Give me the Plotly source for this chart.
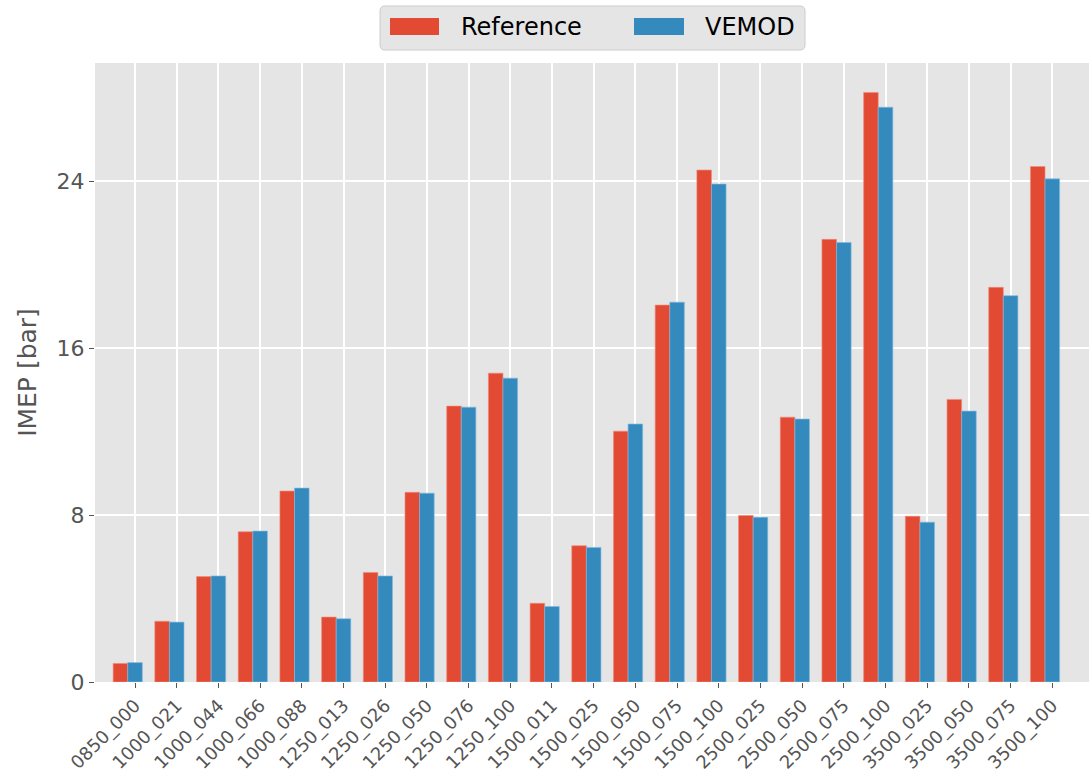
import plotly.graph_objects as go

# Operating points (speed_load) and IMEP values in bar
operating_points = [
    "0850_000", "1000_021", "1000_044", "1000_066", "1000_088",
    "1250_013", "1250_026", "1250_050", "1250_076", "1250_100",
    "1500_011", "1500_025", "1500_050", "1500_075", "1500_100",
    "2500_025", "2500_050", "2500_075", "2500_100",
    "3500_025", "3500_050", "3500_075", "3500_100",
]
imep_reference = [
    0.89, 2.91, 5.05, 7.20, 9.15,
    3.11, 5.25, 9.09, 13.22, 14.80,
    3.77, 6.53, 12.02, 18.06, 24.53,
    7.98, 12.69, 21.21, 28.25,
    7.94, 13.54, 18.91, 24.70,
]
imep_vemod = [
    0.93, 2.87, 5.08, 7.23, 9.29,
    3.03, 5.08, 9.05, 13.17, 14.56,
    3.62, 6.45, 12.36, 18.20, 23.86,
    7.89, 12.60, 21.06, 27.54,
    7.66, 12.98, 18.51, 24.11,
]
y_ticks = [0, 8, 16, 24]

RED = "#E24A33"
BLUE = "#348ABD"
BAR_W = 0.35

W, H = 1089, 780
M_L, M_R, M_T, M_B = 95, 0, 63, 98
PW, PH = W - M_L - M_R, H - M_T - M_B


def px_x(x):
    return (x - M_L) / PW


def px_y(y):
    return (H - M_B - y) / PH


fig = go.Figure()
fig.add_trace(go.Bar(
    x=operating_points, y=imep_reference, name="Reference",
    width=BAR_W, offset=-1.5 * BAR_W,
    marker=dict(color=RED, line=dict(color="rgba(240,140,125,0.8)", width=0.8)),
    showlegend=False,
))
fig.add_trace(go.Bar(
    x=operating_points, y=imep_vemod, name="VEMOD",
    width=BAR_W, offset=-0.5 * BAR_W,
    marker=dict(color=BLUE, line=dict(color="rgba(130,185,225,0.8)", width=0.8)),
    showlegend=False,
))

# Legend drawn as a rounded box with wide swatches
x0, x1, y0, y1, r = 380, 805, 6, 50, 5
rx, ry = r / PW, r / PH
X0, X1, Y0, Y1 = px_x(x0), px_x(x1), px_y(y1), px_y(y0)
box_path = (
    f"M {X0 + rx},{Y0} L {X1 - rx},{Y0} Q {X1},{Y0} {X1},{Y0 + ry} "
    f"L {X1},{Y1 - ry} Q {X1},{Y1} {X1 - rx},{Y1} "
    f"L {X0 + rx},{Y1} Q {X0},{Y1} {X0},{Y1 - ry} "
    f"L {X0},{Y0 + ry} Q {X0},{Y0} {X0 + rx},{Y0} Z"
)
shapes = [dict(type="path", path=box_path, xref="paper", yref="paper",
               fillcolor="#E5E5E5", line=dict(color="#CCCCCC", width=1),
               layer="above")]
annotations = []
for (sx0, sx1, tx, label, col) in [(390, 439, 459, "Reference", RED),
                                   (634, 684, 703, "VEMOD", BLUE)]:
    shapes.append(dict(type="rect", xref="paper", yref="paper",
                       x0=px_x(sx0), x1=px_x(sx1), y0=px_y(35), y1=px_y(18),
                       fillcolor=col, line=dict(width=0), layer="above"))
    annotations.append(dict(x=px_x(tx), y=px_y(27), xref="paper", yref="paper",
                            text=label, showarrow=False, xanchor="left",
                            yanchor="middle",
                            font=dict(size=24, color="#000000")))

fig.update_layout(
    width=W, height=H,
    margin=dict(l=M_L, r=M_R, t=M_T, b=M_B, pad=0),
    paper_bgcolor="white",
    plot_bgcolor="#E5E5E5",
    barmode="overlay",
    font=dict(family="DejaVu Sans", color="#555555"),
    shapes=shapes,
    annotations=annotations,
    xaxis=dict(
        type="category",
        range=[-0.96, 22.88],
        showgrid=True, gridcolor="white", gridwidth=1.5,
        ticks="outside", ticklen=5, tickcolor="#555555", tickwidth=1,
        tickangle=-45, tickfont=dict(size=18, color="#555555"),
        zeroline=False, showline=False,
    ),
    yaxis=dict(
        range=[0, 29.66],
        tickvals=y_ticks,
        showgrid=True, gridcolor="white", gridwidth=1.5,
        ticks="outside", ticklen=5, tickcolor="#555555", tickwidth=1,
        tickfont=dict(size=22, color="#555555"),
        title=dict(text="IMEP [bar]", font=dict(size=25, color="#555555"),
                   standoff=12),
        zeroline=False, showline=False,
    ),
)

fig.write_html("out.html")
